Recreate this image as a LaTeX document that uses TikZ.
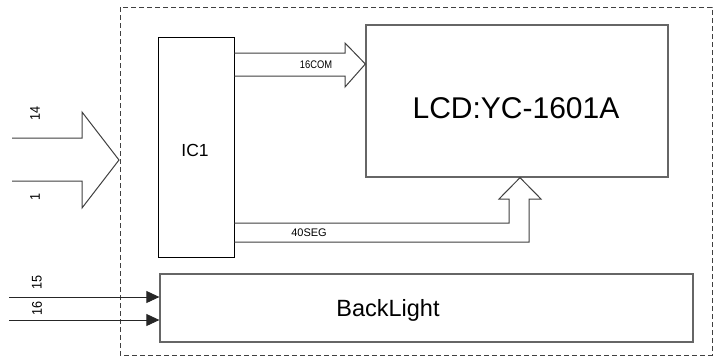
\documentclass[tikz,border=0pt]{standalone}
\usepackage{fontspec}
\setmainfont{Liberation Sans}
\usetikzlibrary{arrows.meta}
\begin{document}
\begin{tikzpicture}[x=1pt,y=-1pt,
  box/.style={draw=black!60, line width=1.3pt, inner sep=0pt},
  icbox/.style={draw=black, line width=0.9pt, inner sep=0pt},
  fat/.style={draw=black!75, line width=1pt, line join=miter},
  pin/.style={font=\fontsize{14}{14}\selectfont, rotate=90, inner sep=0pt, xscale=0.9},
  sig/.style={font=\fontsize{11}{11}\selectfont, inner sep=0pt},
  wire/.style={draw=black!85, line width=0.9pt},
  frame/.style={draw=black!75, line width=0.9pt, dash pattern=on 5pt off 3pt}]
\useasboundingbox (0,0) rectangle (717,362);
\fill[white] (0,0) rectangle (717,362);
% outer dashed frame
\draw[frame] (120,7) rectangle (712,355);
% blocks
\node[box, minimum width=302pt, minimum height=152pt] (lcd) at (517,101) {};
\node[font=\fontsize{30}{30}\selectfont, inner sep=0pt] (lcdt) at (516,108) {LCD:YC-1601A};
\node[icbox, minimum width=76pt, minimum height=220pt] (ic) at (196,147) {};
\node[font=\fontsize{17.5}{17.5}\selectfont, inner sep=0pt] (ict) at (195,150) {IC1};
\node[box, minimum width=533pt, minimum height=68pt] (bl) at (426.5,308) {};
\node[font=\fontsize{23.5}{23.5}\selectfont, inner sep=0pt] (blt) at (388,310) {BackLight};
% 16COM fat arrow
\draw[fat] (ic.east |- 0,53) -- (345,53) -- (345,43) -- (lcd.west |- 0,64) -- (345,87) -- (345,76) -- (ic.east |- 0,76);
\node[sig, xscale=0.85] (com) at (316,65) {16COM};
% 40SEG fat arrow
\draw[fat] (ic.east |- 0,223) -- (509,223) -- (509,199) -- (499,199) -- (lcd.south -| 520,0) -- (541,199) -- (529,199) -- (529,242) -- (ic.east |- 0,242);
\node[sig] (seg) at (309,233) {40SEG};
% input bus arrow
\coordinate (busA) at (12,138);
\coordinate (busB) at (12,181);
\draw[fat] (busA) -- (82,138) -- (82,112) -- (119,160) -- (82,208) -- (82,181) -- (busB);
\node[pin] (p14) at (35,113) {14};
\node[pin] (p1) at (35,197) {1};
% backlight pins
\coordinate (in15) at (9,297);
\coordinate (in16) at (9,320);
\draw[wire, -{Triangle[length=13pt,width=12pt]}] (in15) -- (in15 -| bl.west);
\draw[wire, -{Triangle[length=13pt,width=12pt]}] (in16) -- (in16 -| bl.west);
\node[pin] (p15) at (37,282) {15};
\node[pin] (p16) at (37,308) {16};
\end{tikzpicture}
\end{document}
